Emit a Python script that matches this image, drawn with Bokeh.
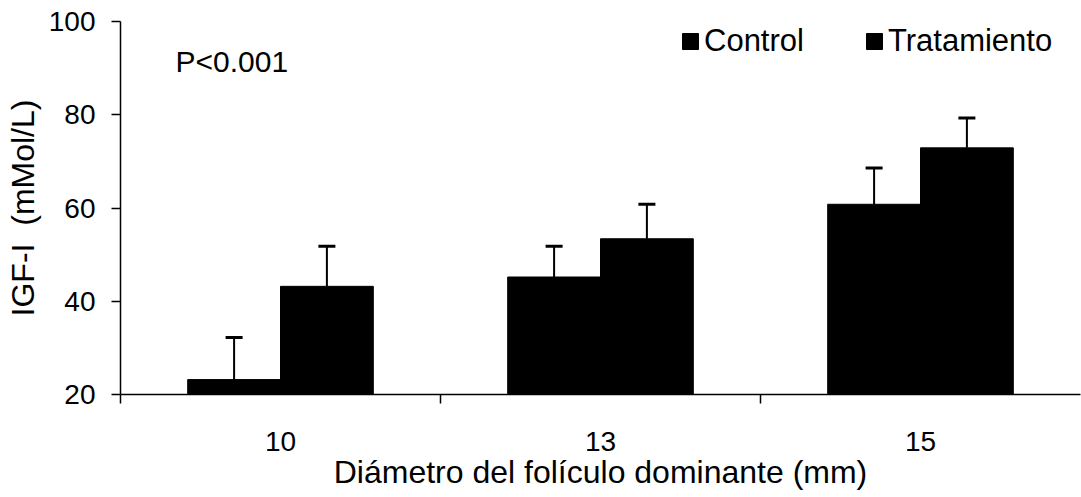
from bokeh.plotting import figure
from bokeh.models import (ColumnDataSource, Whisker, TeeHead, Legend, LegendItem,
                          Label, FixedTicker, CustomJSTickFormatter)
from bokeh.embed import file_html
from bokeh.resources import INLINE

# IGF-I concentration by dominant follicle diameter
categories = ["10", "13", "15"]
control = [23.2, 45.2, 60.8]
control_err = [9.0, 6.6, 7.8]
tratamiento = [43.2, 53.4, 72.9]
tratamiento_err = [8.6, 7.4, 6.4]
y_ticks = [20, 40, 60, 80, 100]

FONT = "Liberation Sans"
BAR_W = 0.29
OFFSET = BAR_W / 2

centers = [i + 0.5 for i in range(len(categories))]

src_c = ColumnDataSource(dict(
    x=[c - OFFSET for c in centers],
    top=control,
    upper=[v + e for v, e in zip(control, control_err)],
))
src_t = ColumnDataSource(dict(
    x=[c + OFFSET for c in centers],
    top=tratamiento,
    upper=[v + e for v, e in zip(tratamiento, tratamiento_err)],
))

p = figure(width=1081, height=497, output_backend="svg", toolbar_location=None,
           x_range=(0, len(categories)), y_range=(y_ticks[0], y_ticks[-1]),
           min_border_left=120, min_border_right=1, min_border_top=21,
           min_border_bottom=103, outline_line_color=None)
p.background_fill_color = "white"
p.border_fill_color = "white"
p.xgrid.visible = False
p.ygrid.visible = False

r_c = p.vbar(x="x", top="top", bottom=y_ticks[0], width=BAR_W, source=src_c,
             fill_color="black", line_color="black")
r_t = p.vbar(x="x", top="top", bottom=y_ticks[0], width=BAR_W, source=src_t,
             fill_color="black", line_color="black")

for src in (src_c, src_t):
    w = Whisker(base="x", lower="top", upper="upper", source=src,
                line_color="black", line_width=2,
                upper_head=TeeHead(size=17, line_width=3, line_color="black"),
                lower_head=None)
    p.add_layout(w)

# y axis
p.yaxis.ticker = FixedTicker(ticks=y_ticks)
p.yaxis.axis_label = "IGF-I\u00a0 (mMol/L)"
p.yaxis.axis_label_text_font = FONT
p.yaxis.axis_label_text_font_size = "32px"
p.yaxis.axis_label_text_font_style = "normal"
p.yaxis.axis_label_standoff = 5
p.yaxis.major_label_text_font = FONT
p.yaxis.major_label_text_font_size = "28px"
p.yaxis.major_label_standoff = 16
p.yaxis.major_tick_out = 9
p.yaxis.major_tick_in = 0
p.yaxis.minor_tick_line_color = None
p.yaxis.axis_line_width = 1.5
p.yaxis.major_tick_line_width = 1.5
p.yaxis.axis_line_color = "black"
p.yaxis.major_tick_line_color = "black"
p.yaxis.major_label_text_color = "black"
p.yaxis.axis_label_text_color = "black"

# x axis: labels at group centres, short tick marks between groups
p.xaxis.ticker = FixedTicker(ticks=centers, minor_ticks=list(range(len(categories))))
p.xaxis.formatter = CustomJSTickFormatter(args=dict(labels=categories),
                                          code="return labels[Math.floor(tick)];")
p.xaxis.major_tick_line_color = None
p.xaxis.major_tick_out = 0
p.xaxis.major_tick_in = 0
p.xaxis.minor_tick_out = 9
p.xaxis.minor_tick_in = 0
p.xaxis.minor_tick_line_width = 1.5
p.xaxis.minor_tick_line_color = "black"
p.xaxis.axis_line_width = 1.5
p.xaxis.axis_line_color = "black"
p.xaxis.major_label_text_font = FONT
p.xaxis.major_label_text_font_size = "28px"
p.xaxis.major_label_text_color = "black"
p.xaxis.major_label_standoff = 28
p.xaxis.axis_label = "Diámetro del folículo dominante (mm)"
p.xaxis.axis_label_text_font = FONT
p.xaxis.axis_label_text_font_size = "32px"
p.xaxis.axis_label_text_font_style = "normal"
p.xaxis.axis_label_text_color = "black"
p.xaxis.axis_label_standoff = 0

p.add_layout(Label(x=55, y=333, x_units="screen", y_units="screen",
                   text="P<0.001", text_font=FONT, text_font_size="30px",
                   text_color="black", text_baseline="alphabetic"))

legend = Legend(items=[LegendItem(label="Control", renderers=[r_c]),
                       LegendItem(label="Tratamiento", renderers=[r_t])],
                orientation="horizontal", location=(560, 335),
                glyph_width=20, glyph_height=20, label_standoff=4, spacing=60,
                padding=0, margin=0, border_line_color=None,
                background_fill_alpha=0,
                label_text_font=FONT, label_text_font_size="31px",
                label_text_color="black")
p.add_layout(legend)

open("out.html", "w").write(file_html(p, INLINE))
